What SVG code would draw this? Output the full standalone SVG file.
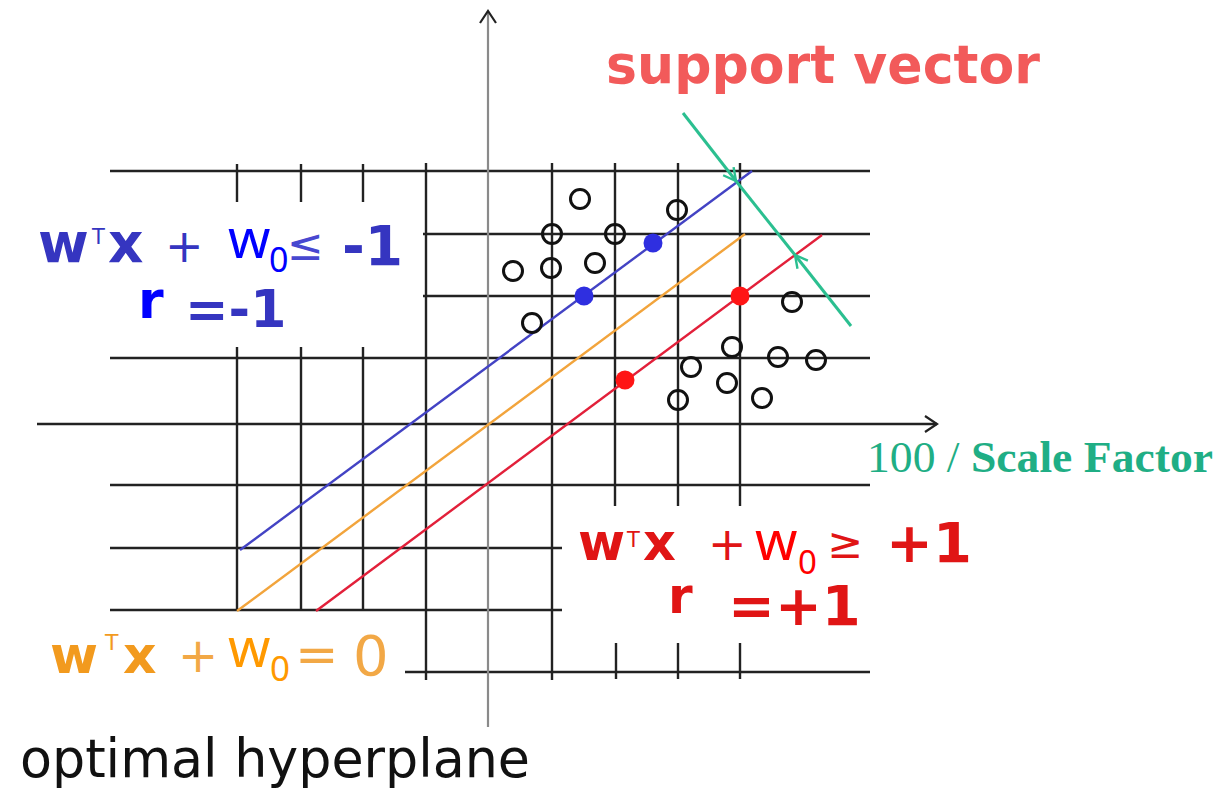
<svg xmlns="http://www.w3.org/2000/svg" width="1215" height="789" viewBox="0 0 1215 789">
<style>
.grid{stroke:#222;stroke-width:2.4;fill:none}
.yaxis{stroke:#8a8a8a;stroke-width:2.2;fill:none}
.pt{fill:none;stroke:#111;stroke-width:3}
.b{font-family:"DejaVu Sans",Verdana,sans-serif;font-weight:bold}
.n{font-family:"DejaVu Sans",Verdana,sans-serif}
.c{font-family:"Noto Sans","Liberation Sans",sans-serif}
</style>
<defs>
<marker id="arrK" markerUnits="userSpaceOnUse" viewBox="-15 -10 17 20" refX="0" refY="0" markerWidth="17" markerHeight="20" orient="auto">
<path d="M-12,-8 L0,0 L-12,8" fill="none" stroke="#222" stroke-width="2.2"/>
</marker>
<marker id="arrG" markerUnits="userSpaceOnUse" viewBox="-15 -10 17 20" refX="0" refY="0" markerWidth="17" markerHeight="20" orient="auto">
<path d="M-12.4,-6.6 L0,0 L-12.4,6.6" fill="none" stroke="#2bbf90" stroke-width="2.4"/>
</marker>
</defs>
<rect width="1215" height="789" fill="#fff"/>
<g id="grid">
<path class="grid" d="M110,171H870 M423,234H870 M423,296H870 M110,358H870 M110,485H870 M110,548H562 M110,610H562 M405,672H870"/>
<path class="grid" d="M237,164V202 M237,347V610 M301,164V202 M301,347V610 M363,164V202 M363,347V610 M426,163V680 M552,163V680 M615,163V506 M678,163V506 M740,163V506 M616,643V679 M678,643V679 M740,643V679"/>
</g>
<g id="axes">
<path class="grid" d="M37,424H937" marker-end="url(#arrK)"/>
<path class="yaxis" d="M488,727V11" marker-end="url(#arrK)"/>
</g>
<g id="hyperplanes">
<path d="M240,550L752,171" stroke="#4343c4" stroke-width="2.4" fill="none"/>
<path d="M237,611L745,234" stroke="#f2a43c" stroke-width="2.4" fill="none"/>
<path d="M316,611L822,235" stroke="#e2203a" stroke-width="2.4" fill="none"/>
</g>
<g id="points">
<circle class="pt" cx="580" cy="199" r="9.5"/>
<circle class="pt" cx="677" cy="210" r="9.5"/>
<circle class="pt" cx="552" cy="234" r="9.5"/>
<circle class="pt" cx="615" cy="234" r="9.5"/>
<circle class="pt" cx="513" cy="271" r="9.5"/>
<circle class="pt" cx="551" cy="268" r="9.5"/>
<circle class="pt" cx="595" cy="263" r="9.5"/>
<circle class="pt" cx="532" cy="323" r="9.5"/>
<circle class="pt" cx="792" cy="302" r="9.5"/>
<circle class="pt" cx="732" cy="347" r="9.5"/>
<circle class="pt" cx="691" cy="367" r="9.5"/>
<circle class="pt" cx="778" cy="357" r="9.5"/>
<circle class="pt" cx="816" cy="360" r="9.5"/>
<circle class="pt" cx="727" cy="383" r="9.5"/>
<circle class="pt" cx="762" cy="398" r="9.5"/>
<circle class="pt" cx="678" cy="400" r="9.5"/>
<circle cx="653" cy="243" r="9.5" fill="#2f2fe0"/>
<circle cx="584" cy="296" r="9.5" fill="#2f2fe0"/>
<circle cx="740" cy="296" r="9.5" fill="#ff1515"/>
<circle cx="625" cy="380" r="9.5" fill="#ff1515"/>
</g>
<g id="connectors">
<path d="M683,113L736,181" stroke="#2bbf90" stroke-width="3" fill="none" marker-end="url(#arrG)"/>
<path d="M736,181L795,255" stroke="#2bbf90" stroke-width="3" fill="none"/>
<path d="M851,326L795,255" stroke="#2bbf90" stroke-width="3" fill="none" marker-end="url(#arrG)"/>
</g>
<g id="label-support">
<text class="b" x="606" y="83" font-size="54" fill="#f25a5a" textLength="434" lengthAdjust="spacingAndGlyphs">support vector</text>
</g>
<g id="label-scale">
<text x="867" y="472" font-family="'Liberation Serif','DejaVu Serif',serif" font-size="44" fill="#1fae85" textLength="346" lengthAdjust="spacingAndGlyphs">100 / <tspan font-weight="bold">Scale Factor</tspan></text>
</g>
<g id="label-neg" fill="#3535c0">
<text class="b" x="38" y="262" font-size="55">w</text>
<text class="n" x="92" y="244" font-size="21">T</text>
<text class="b" x="108" y="262" font-size="55">x</text>
<text class="n" x="165" y="262" font-size="46">+</text>
<text class="c" x="228" y="258" font-size="54" fill="#0000ff">w</text>
<text class="c" x="269" y="272" font-size="34" fill="#0000ff">0</text>
<text class="n" x="287" y="260" font-size="44" fill="#4848d0">≤</text>
<text class="b" x="342" y="265" font-size="55">-1</text>
<text class="b" x="138" y="318" font-size="52" fill="#0000ff">r</text>
<text class="b" x="185" y="327" font-size="52">=-1</text>
</g>
<g id="label-pos" fill="#e01515">
<text class="b" x="578" y="560" font-size="51">w</text>
<text class="n" x="627" y="547" font-size="21">T</text>
<text class="b" x="643" y="560" font-size="51">x</text>
<text class="n" x="708" y="560" font-size="46">+</text>
<text class="c" x="755" y="560" font-size="54" fill="#ff0000">w</text>
<text class="c" x="798" y="574" font-size="33" fill="#ff0000">0</text>
<text class="n" x="827" y="558" font-size="43">≥</text>
<text class="b" x="886" y="562" font-size="56">+1</text>
<text class="b" x="668" y="613" font-size="50">r</text>
<text class="b" x="728" y="625" font-size="56">=+1</text>
</g>
<g id="label-zero" fill="#f29a1e">
<text class="b" x="50" y="673" font-size="52">w</text>
<text class="n" x="105" y="650" font-size="22">T</text>
<text class="b" x="123" y="673" font-size="52">x</text>
<text class="n" x="178" y="672" font-size="48" fill="#f2a846">+</text>
<text class="c" x="228" y="667" font-size="54" fill="#ff9900">w</text>
<text class="c" x="270" y="681" font-size="35" fill="#ff9900">0</text>
<text class="n" x="295" y="672" font-size="52" fill="#f2a846">=</text>
<text class="n" x="353" y="675" font-size="56" fill="#f2a846">0</text>
</g>
<g id="label-optimal">
<text class="n" x="20" y="777" font-size="53" fill="#111" textLength="510" lengthAdjust="spacingAndGlyphs">optimal hyperplane</text>
</g>
</svg>
